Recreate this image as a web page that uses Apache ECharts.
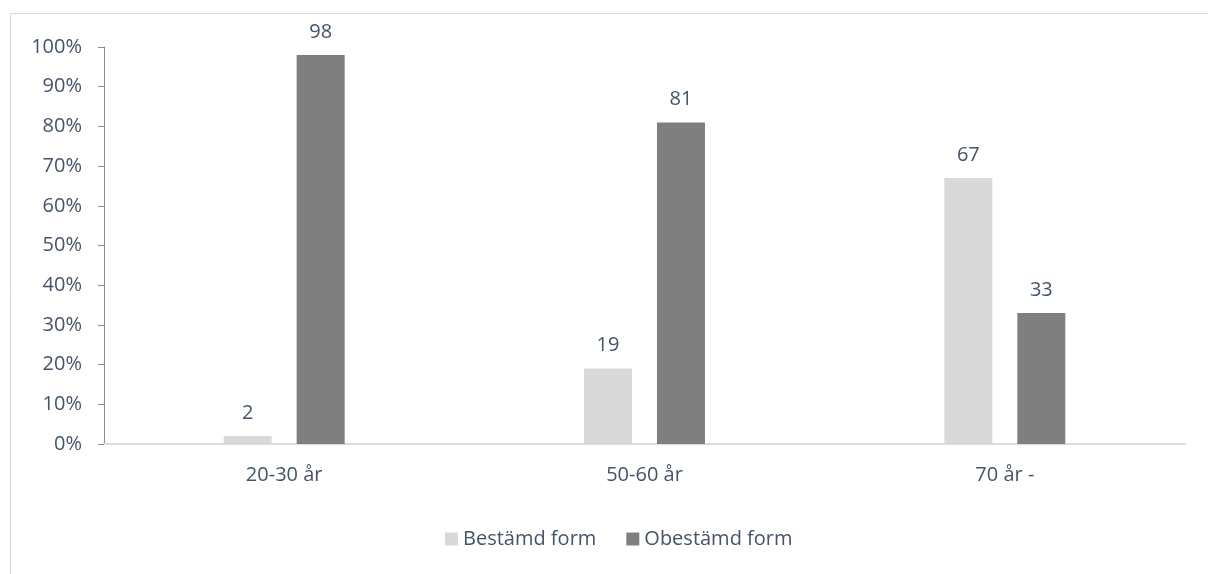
<!DOCTYPE html>
<html>
<head>
<meta charset="utf-8">
<script src="https://cdn.jsdelivr.net/npm/echarts@6/dist/echarts.min.js"></script>
<style>
  html, body { margin: 0; padding: 0; background: #fff; }
  #chart { width: 1208px; height: 574px; }
</style>
</head>
<body>
<div id="chart"></div>
<script>
// Age groups and share (%) of each answer form
const categories = ['20-30 år', '50-60 år', '70 år -'];
const seriesNames = ['Bestämd form', 'Obestämd form'];
const bestamd = [2, 19, 67];
const obestamd = [98, 81, 33];

const textColor = '#44546a';
const fontFamily = '"Open Sans", "Noto Sans", sans-serif';
const fontSize = 20;

const chart = echarts.init(document.getElementById('chart'));
chart.setOption({
  animation: false,
  backgroundColor: '#fff',
  textStyle: { fontFamily: fontFamily, color: textColor },
  graphic: [{
    type: 'rect',
    shape: { x: 10.5, y: 13.5, width: 1400, height: 800 },
    style: { fill: 'none', stroke: '#d9d9d9', lineWidth: 1 },
    silent: true,
    z: -1
  }],
  grid: { left: 104, right: 23, top: 47, bottom: 130 },
  legend: {
    data: seriesNames,
    top: 524,
    left: 440,
    itemWidth: 13,
    itemHeight: 13,
    itemGap: 30,
    icon: 'rect',
    textStyle: { fontSize: fontSize, color: textColor, fontFamily: fontFamily }
  },
  xAxis: {
    type: 'category',
    data: categories,
    axisLine: { lineStyle: { color: '#d9dde3', width: 2 } },
    axisTick: { show: false },
    axisLabel: { fontSize: fontSize, color: textColor, margin: 21, fontFamily: fontFamily }
  },
  yAxis: {
    type: 'value',
    min: 0,
    max: 100,
    interval: 10,
    splitLine: { show: false },
    axisLine: { show: true, lineStyle: { color: '#8c8c8c', width: 1 } },
    axisTick: { show: true, length: 6, lineStyle: { color: '#8c8c8c' } },
    axisLabel: { fontSize: fontSize, color: textColor, margin: 22, fontFamily: fontFamily, formatter: '{value}%' }
  },
  series: [
    {
      name: seriesNames[0],
      type: 'bar',
      data: bestamd,
      barWidth: 48,
      barGap: '52%',
      itemStyle: { color: '#d9d9d9' },
      label: { show: true, position: 'top', distance: 13, fontSize: fontSize, color: textColor, fontFamily: fontFamily }
    },
    {
      name: seriesNames[1],
      type: 'bar',
      data: obestamd,
      barWidth: 48,
      barGap: '52%',
      itemStyle: { color: '#7f7f7f' },
      label: { show: true, position: 'top', distance: 13, fontSize: fontSize, color: textColor, fontFamily: fontFamily }
    }
  ]
});
</script>
</body>
</html>
